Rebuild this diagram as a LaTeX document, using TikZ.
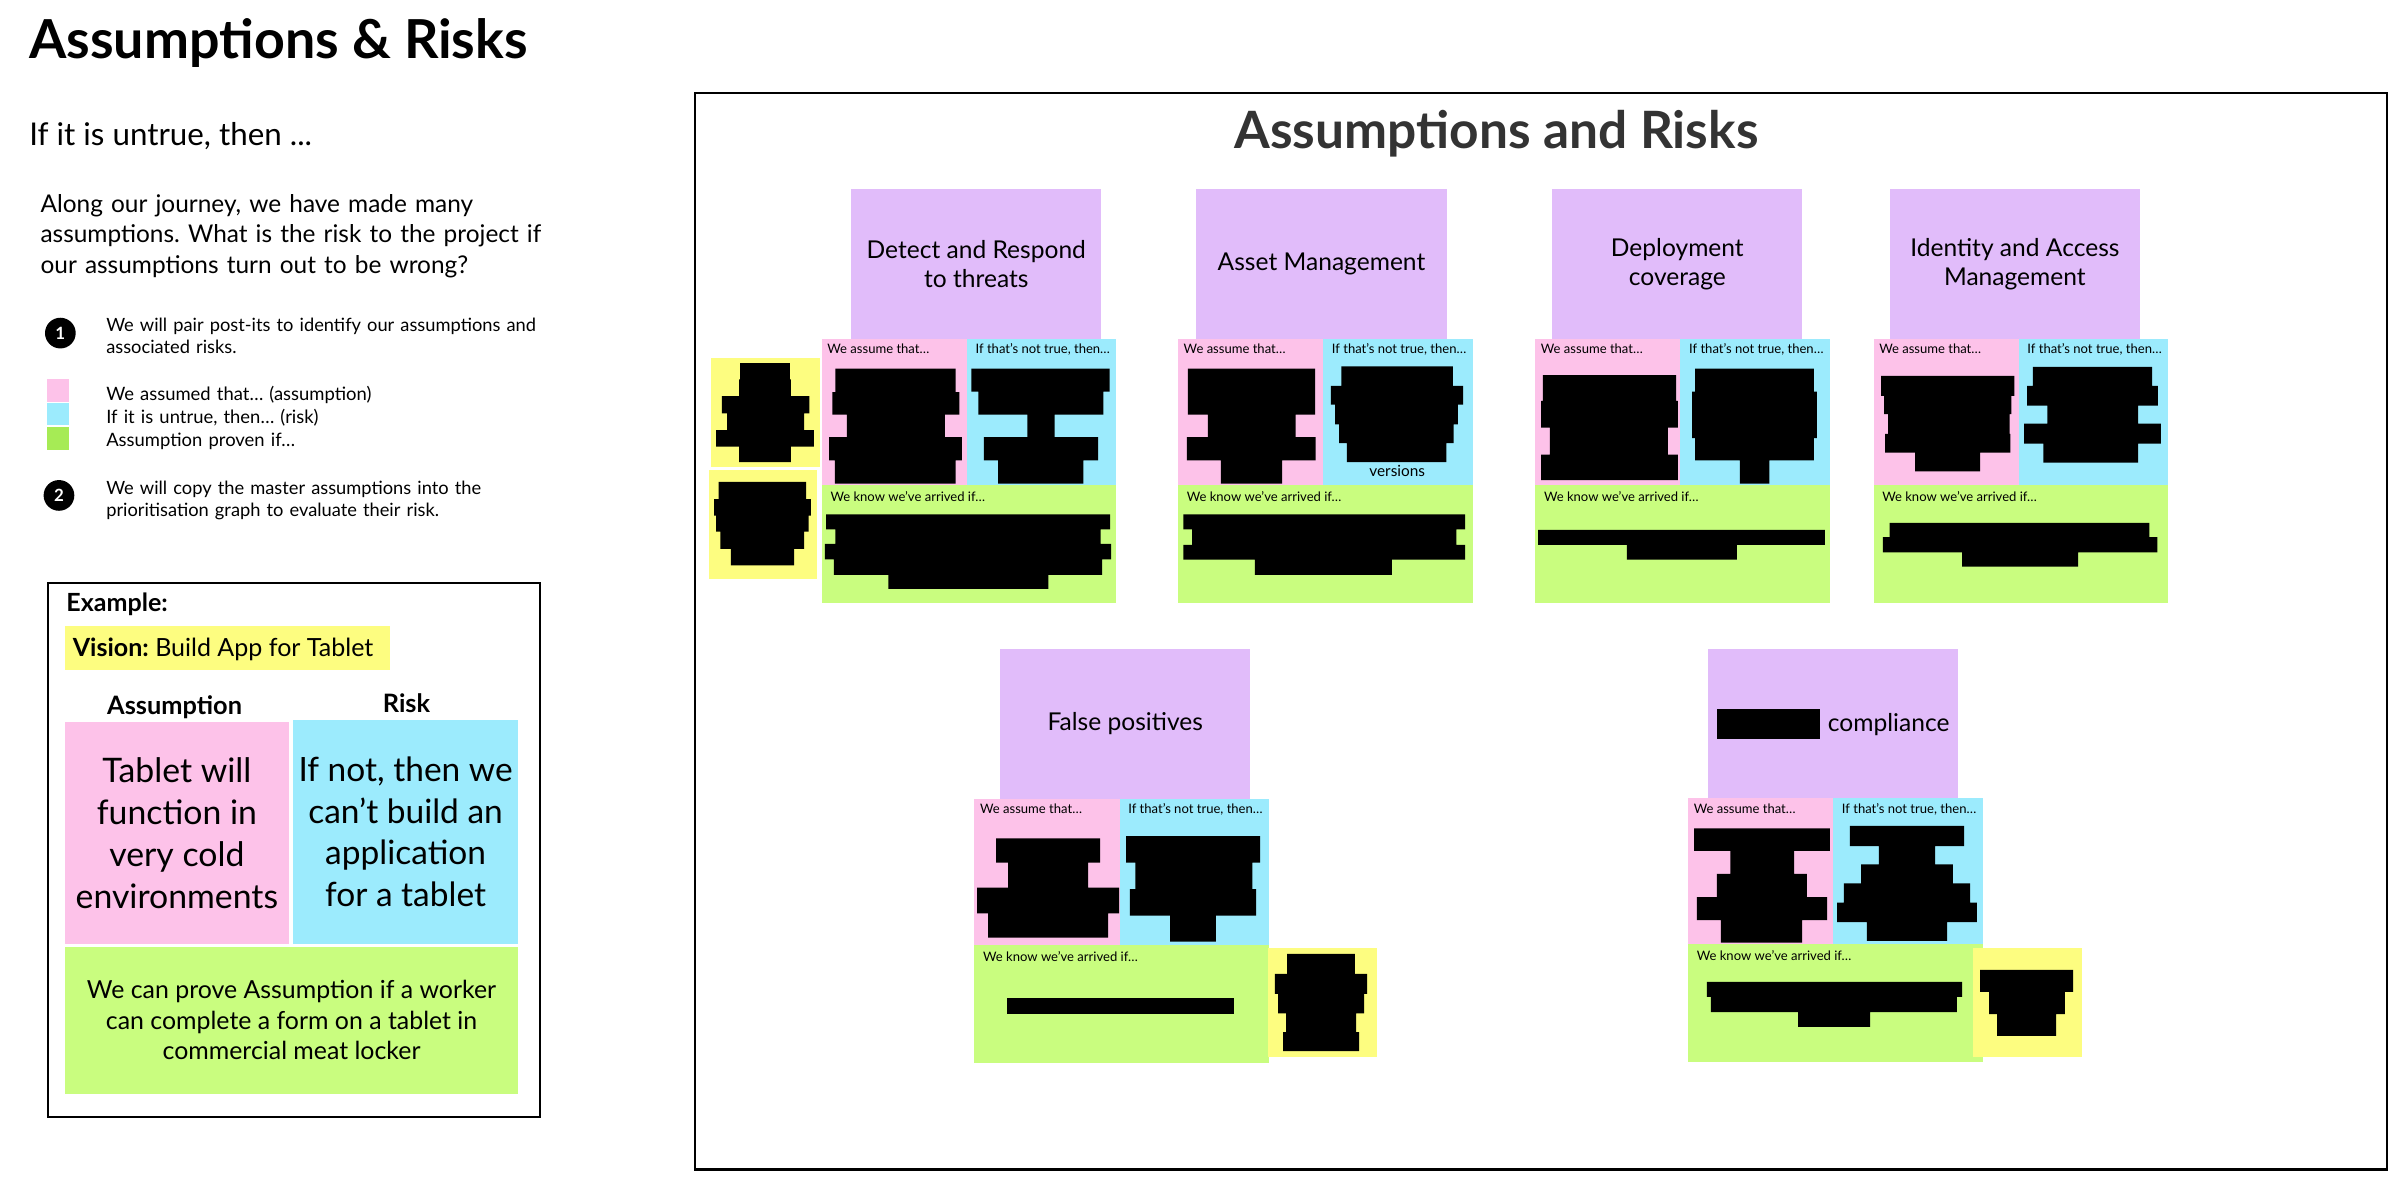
\documentclass[tikz,border=0pt]{standalone}
\usepackage{fontspec}
\setmainfont{Lato}
\usetikzlibrary{positioning}
\frenchspacing

\definecolor{notepurple}{HTML}{E1BCFA}
\definecolor{notepink}{HTML}{FDC2E9}
\definecolor{notecyan}{HTML}{9CEBFD}
\definecolor{notegreen}{HTML}{C9FD7F}
\definecolor{noteyellow}{HTML}{FDFD80}
\definecolor{legendgreen}{HTML}{A6EB55}
\definecolor{boardgray}{HTML}{333333}

\tikzset{
  note/.style={rectangle, outer sep=0pt, inner sep=2pt, align=center},
  topic/.style={note, fill=notepurple, minimum width=163pt, minimum height=97.5pt, anchor=north west, font=\fontsize{16}{19}\selectfont},
  assume/.style={note, fill=notepink, minimum width=94.5pt, minimum height=95pt, anchor=north west},
  risk/.style={note, fill=notecyan, minimum width=97.3pt, minimum height=95pt},
  proof/.style={note, fill=notegreen, minimum width=191.8pt, minimum height=77pt},
  extra/.style={note, fill=noteyellow, minimum width=70.6pt, minimum height=71pt, anchor=north west},
  tag/.style={inner sep=0pt, anchor=base west, font=\fontsize{8.5}{10}\selectfont},
  redact/.style={fill=black},
  bullet/.style={circle, fill=black, text=white, minimum size=20pt, inner sep=0pt, font=\bfseries\fontsize{11}{11}\selectfont},
  swatch/.style={rectangle, outer sep=0pt, minimum width=14.5pt, minimum height=14.5pt, anchor=north west},
  body/.style={inner sep=0pt, anchor=base west, align=left},
  frame/.style={rectangle, draw=black, anchor=north west, outer sep=0pt},
}

\begin{document}
\begin{tikzpicture}[x=1pt, y=-1pt]
    \useasboundingbox (0,0) rectangle (1568,775);

    % Left column
    \node[body, font=\bfseries\fontsize{35}{40}\selectfont] (title) at (18.9,38.4) {Assumptions \& Risks};
    \node[body, font=\fontsize{20.4}{24}\selectfont] (subtitle) at (18.9,94.9) {If it is untrue, then ...};
    \node[body, text width=400pt, font=\fontsize{15.9}{19.75}\selectfont] (intro) at (26.2,138.4) {Along our journey, we have made many\\
        assumptions. What is the risk to the project if\\
        our assumptions turn out to be wrong?};

    \node[bullet] (b1) at (39.3,216.9) {1};
    \node[body, text width=400pt, font=\fontsize{11.9}{14.4}\selectfont] (b1text) at (69,215.8) {We will pair post-its to identify our assumptions and\\
        associated risks.};

    \node[swatch, fill=notepink] (sw1) at (30.6,247) {};
    \node[swatch, fill=notecyan] (sw2) at (30.6,262.1) {};
    \node[swatch, fill=legendgreen] (sw3) at (30.6,278.3) {};
    \node[body, text width=400pt, font=\fontsize{12}{15.1}\selectfont] (legend) at (69,260.5) {We assumed that… (assumption)\\
        If it is untrue, then… (risk)\\
        Assumption proven if…};

    \node[bullet] (b2) at (38.4,322.6) {2};
    \node[body, text width=400pt, font=\fontsize{11.9}{14.2}\selectfont] (b2text) at (69,322.1) {We will copy the master assumptions into the\\
        prioritisation graph to evaluate their risk.};

    % Example
    \node[frame, line width=1.2pt, minimum width=320.6pt, minimum height=347.5pt] (example) at (31.2,379.8) {};
    \node[body, font=\bfseries\fontsize{16.3}{18}\selectfont] (extitle) at (43.1,398.1) {Example:};
    \node[note, fill=noteyellow, anchor=north west, minimum width=211.7pt, minimum height=28.8pt] (vision) at (42.5,407.8) {};
    \node[body, font=\fontsize{16.3}{18}\selectfont] (visiontext) at (47.2,427.4) {\textbf{Vision:} Build App for Tablet};
    \node[inner sep=0pt, anchor=base, font=\bfseries\fontsize{16.5}{18}\selectfont] (exassume) at (113.7,465.4) {Assumption};
    \node[inner sep=0pt, anchor=base, font=\bfseries\fontsize{16.5}{18}\selectfont] (exrisk) at (264.7,464) {Risk};
    \node[note, fill=notepink, anchor=north west, minimum width=145.4pt, minimum height=144.9pt, font=\fontsize{22}{27.3}\selectfont] (exp) at (42.5,470.1) {Tablet will\\ function in\\ very cold\\ environments};
    \node[note, fill=notecyan, anchor=north west, minimum width=146.2pt, minimum height=145.7pt, font=\fontsize{21.8}{27.3}\selectfont] (exc) at (191,468.8) {If not, then we\\ can't build an\\ application\\ for a tablet};
    \node[note, fill=notegreen, anchor=north west, minimum width=294.7pt, minimum height=95.5pt, font=\fontsize{16.2}{19.9}\selectfont] (exg) at (42.5,616.6) {We can prove Assumption if a worker\\ can complete a form on a tablet in\\ commercial meat locker};

    % Board
    \node[frame, line width=1.6pt, minimum width=1101.6pt, minimum height=700.9pt] (board) at (452.7,60.6) {};
    \node[body, text=boardgray, font=\bfseries\fontsize{33.5}{38}\selectfont] (boardtitle) at (803.5,97) {Assumptions and Risks};

    % Detect and Respond
    \node[topic] (t1) at (554.2,123.2) {Detect and Respond\\ to threats};
    \node[assume] (a1) at (535.1,220.7) {};
    \node[risk, right=0pt of a1] (r1) {};
    \node[proof, below right=0pt and 0pt of a1.south west] (p1) {};
    \node[tag] (a1t) at ([shift={(3.5,9.7)}]a1.north west) {We assume that…};
    \node[tag] (r1t) at ([shift={(5.5,9.7)}]r1.north west) {If that's not true, then…};
    \node[tag] (p1t) at ([shift={(5.5,10.6)}]p1.north west) {We know we've arrived if…};
    \node[extra] (y1) at (463.2,233.2) {};
    \node[extra] (y2) at (461.5,305.9) {};

    % Asset Management
    \node[topic] (t2) at (779,123.2) {Asset Management};
    \node[assume] (a2) at (767.1,220.7) {};
    \node[risk, right=0pt of a2] (r2) {};
    \node[proof, below right=0pt and 0pt of a2.south west] (p2) {};
    \node[tag] (a2t) at ([shift={(3.5,9.7)}]a2.north west) {We assume that…};
    \node[tag] (r2t) at ([shift={(5.5,9.7)}]r2.north west) {If that's not true, then…};
    \node[tag] (p2t) at ([shift={(5.5,10.6)}]p2.north west) {We know we've arrived if…};
    \node[inner sep=0pt, anchor=base, font=\fontsize{10}{12}\selectfont] (r2v) at (909.8,310) {versions};

    % Deployment coverage
    \node[topic] (t3) at (1010.7,123.2) {Deployment\\ coverage};
    \node[assume] (a3) at (999.7,220.7) {};
    \node[risk, right=0pt of a3] (r3) {};
    \node[proof, below right=0pt and 0pt of a3.south west] (p3) {};
    \node[tag] (a3t) at ([shift={(3.5,9.7)}]a3.north west) {We assume that…};
    \node[tag] (r3t) at ([shift={(5.5,9.7)}]r3.north west) {If that's not true, then…};
    \node[tag] (p3t) at ([shift={(5.5,10.6)}]p3.north west) {We know we've arrived if…};

    % Identity and Access Management
    \node[topic] (t4) at (1230.5,123.2) {Identity and Access\\ Management};
    \node[assume] (a4) at (1220,220.7) {};
    \node[risk, right=0pt of a4] (r4) {};
    \node[proof, below right=0pt and 0pt of a4.south west] (p4) {};
    \node[tag] (a4t) at ([shift={(3.5,9.7)}]a4.north west) {We assume that…};
    \node[tag] (r4t) at ([shift={(5.5,9.7)}]r4.north west) {If that's not true, then…};
    \node[tag] (p4t) at ([shift={(5.5,10.6)}]p4.north west) {We know we've arrived if…};

    % False positives
    \node[topic] (t5) at (651.2,422.6) {False positives};
    \node[assume] (a5) at (634.5,520.3) {};
    \node[risk, right=0pt of a5] (r5) {};
    \node[proof, below right=0pt and 0pt of a5.south west] (p5) {};
    \node[tag] (a5t) at ([shift={(3.5,9.7)}]a5.north west) {We assume that…};
    \node[tag] (r5t) at ([shift={(5.5,9.7)}]r5.north west) {If that's not true, then…};
    \node[tag] (p5t) at ([shift={(5.5,10.6)}]p5.north west) {We know we've arrived if…};
    \node[extra] (y5) at (825.9,617.1) {};

    % compliance
    \node[topic] (t6) at (1112.2,422.6) {\rule[-4.8pt]{67.3pt}{19.5pt}\hspace{5pt}compliance};
    \node[assume] (a6) at (1099.2,519.8) {};
    \node[risk, right=0pt of a6] (r6) {};
    \node[proof, below right=0pt and 0pt of a6.south west] (p6) {};
    \node[tag] (a6t) at ([shift={(3.5,9.7)}]a6.north west) {We assume that…};
    \node[tag] (r6t) at ([shift={(5.5,9.7)}]r6.north west) {If that's not true, then…};
    \node[tag] (p6t) at ([shift={(5.5,10.6)}]p6.north west) {We know we've arrived if…};
    \node[extra] (y6) at (1285,617.5) {};

    % redacted notes
    \fill[redact] (544.0,240.0) rectangle (622.3,255.4) (542.0,255.4) rectangle (624.7,270.0) (551.5,270.0) rectangle (615.2,284.6)
        (539.9,284.6) rectangle (626.4,299.8) (543.6,299.8) rectangle (622.3,314.9);
    \fill[redact] (632.5,240.0) rectangle (722.5,255.0) (637.0,255.0) rectangle (718.4,270.0) (669.0,270.0) rectangle (686.7,284.6)
        (640.7,284.6) rectangle (715.0,299.8) (649.9,299.8) rectangle (705.4,314.9);
    \fill[redact] (537.9,335.0) rectangle (722.8,344.7) (544.0,344.7) rectangle (716.7,354.1) (537.2,354.1) rectangle (723.5,364.2)
        (543.0,364.2) rectangle (717.7,374.3) (578.4,374.3) rectangle (682.6,383.5);
    \fill[redact] (482.0,236.4) rectangle (514.4,247.1) (481.3,247.1) rectangle (515.0,257.9) (470.1,257.9) rectangle (527.0,269.1)
        (473.5,269.1) rectangle (523.6,280.1) (466.3,280.1) rectangle (530.0,290.9) (481.3,290.9) rectangle (515.0,301.0);
    \fill[redact] (468.0,313.7) rectangle (524.9,325.0) (465.0,325.0) rectangle (528.0,335.7) (466.3,335.7) rectangle (526.6,346.2)
        (469.1,346.2) rectangle (523.6,357.4) (475.9,357.4) rectangle (517.1,368.2);

    \fill[redact] (773.5,240.0) rectangle (856.3,270.0) (786.5,270.0) rectangle (843.7,284.6) (772.9,284.6) rectangle (856.6,299.8)
        (795.0,299.8) rectangle (834.9,314.9);
    \fill[redact] (873.4,238.6) rectangle (946.1,251.2) (866.6,251.2) rectangle (952.7,263.5) (869.3,263.5) rectangle (949.3,276.3)
        (872.0,276.3) rectangle (946.6,288.6) (877.1,288.6) rectangle (941.8,301.0);
    \fill[redact] (770.5,335.0) rectangle (954.1,344.7) (776.3,344.7) rectangle (948.3,354.8) (770.5,354.8) rectangle (954.1,364.4)
        (817.1,364.4) rectangle (906.4,374.3);

    \fill[redact] (1004.7,244.2) rectangle (1091.4,261.0) (1003.5,261.0) rectangle (1092.5,278.5) (1009.2,278.5) rectangle (1086.1,296.0)
        (1003.5,296.0) rectangle (1092.5,312.6);
    \fill[redact] (1103.8,240.0) rectangle (1181.1,255.0) (1101.9,255.0) rectangle (1183.0,285.3) (1103.8,285.3) rectangle (1181.1,299.8)
        (1132.9,299.8) rectangle (1152.1,314.9);
    \fill[redact] (1001.6,345.1) rectangle (1188.3,354.8) (1059.3,354.8) rectangle (1131.0,364.4);

    \fill[redact] (1224.9,244.7) rectangle (1311.6,257.7) (1226.8,257.7) rectangle (1309.7,269.6) (1229.4,269.6) rectangle (1308.6,282.6)
        (1227.5,282.6) rectangle (1309.0,294.7) (1247.1,294.7) rectangle (1289.4,307.0);
    \fill[redact] (1323.7,238.9) rectangle (1401.4,251.2) (1319.9,251.2) rectangle (1405.1,264.2) (1333.1,264.2) rectangle (1392.3,275.8)
        (1318.0,275.8) rectangle (1407.0,288.8) (1330.5,288.8) rectangle (1392.3,301.2);
    \fill[redact] (1230.5,340.4) rectangle (1399.5,349.8) (1226.0,349.8) rectangle (1404.8,359.7) (1277.7,359.7) rectangle (1353.1,368.9);

    \fill[redact] (648.6,545.9) rectangle (716.3,561.7) (656.4,561.7) rectangle (708.5,578.0) (636.2,578.0) rectangle (728.7,594.7)
        (643.4,594.7) rectangle (721.5,610.6);
    \fill[redact] (733.2,544.4) rectangle (820.5,561.7) (739.3,561.7) rectangle (815.5,578.9) (735.8,578.9) rectangle (817.9,596.2)
        (761.9,596.2) rectangle (791.8,613.2);
    \fill[redact] (655.7,649.9) rectangle (803.6,660.3);
    \fill[redact] (838.1,621.2) rectangle (882.3,634.2) (830.2,634.2) rectangle (890.2,647.2) (832.2,647.2) rectangle (888.2,659.8)
        (837.4,659.8) rectangle (883.0,672.0) (835.5,672.0) rectangle (885.0,684.4);

    \fill[redact] (1103.1,539.4) rectangle (1191.6,554.1) (1126.7,554.1) rectangle (1168.2,569.1) (1118.0,569.1) rectangle (1176.6,584.1)
        (1105.0,584.1) rectangle (1189.7,599.1) (1120.6,599.1) rectangle (1173.4,613.8);
    \fill[redact] (1204.6,537.8) rectangle (1278.9,550.9) (1223.5,550.9) rectangle (1260.0,562.8) (1211.8,562.8) rectangle (1271.7,575.2)
        (1200.7,575.2) rectangle (1282.8,587.8) (1196.2,587.8) rectangle (1287.3,600.4) (1215.7,600.4) rectangle (1267.8,612.7);
    \fill[redact] (1111.5,639.4) rectangle (1277.6,649.2) (1114.1,649.2) rectangle (1274.3,659.0) (1170.8,659.0) rectangle (1217.7,668.7);
    \fill[redact] (1289.3,631.6) rectangle (1349.9,645.9) (1295.2,645.9) rectangle (1344.6,660.3) (1300.4,660.3) rectangle (1338.8,674.6);
\end{tikzpicture}
\end{document}
